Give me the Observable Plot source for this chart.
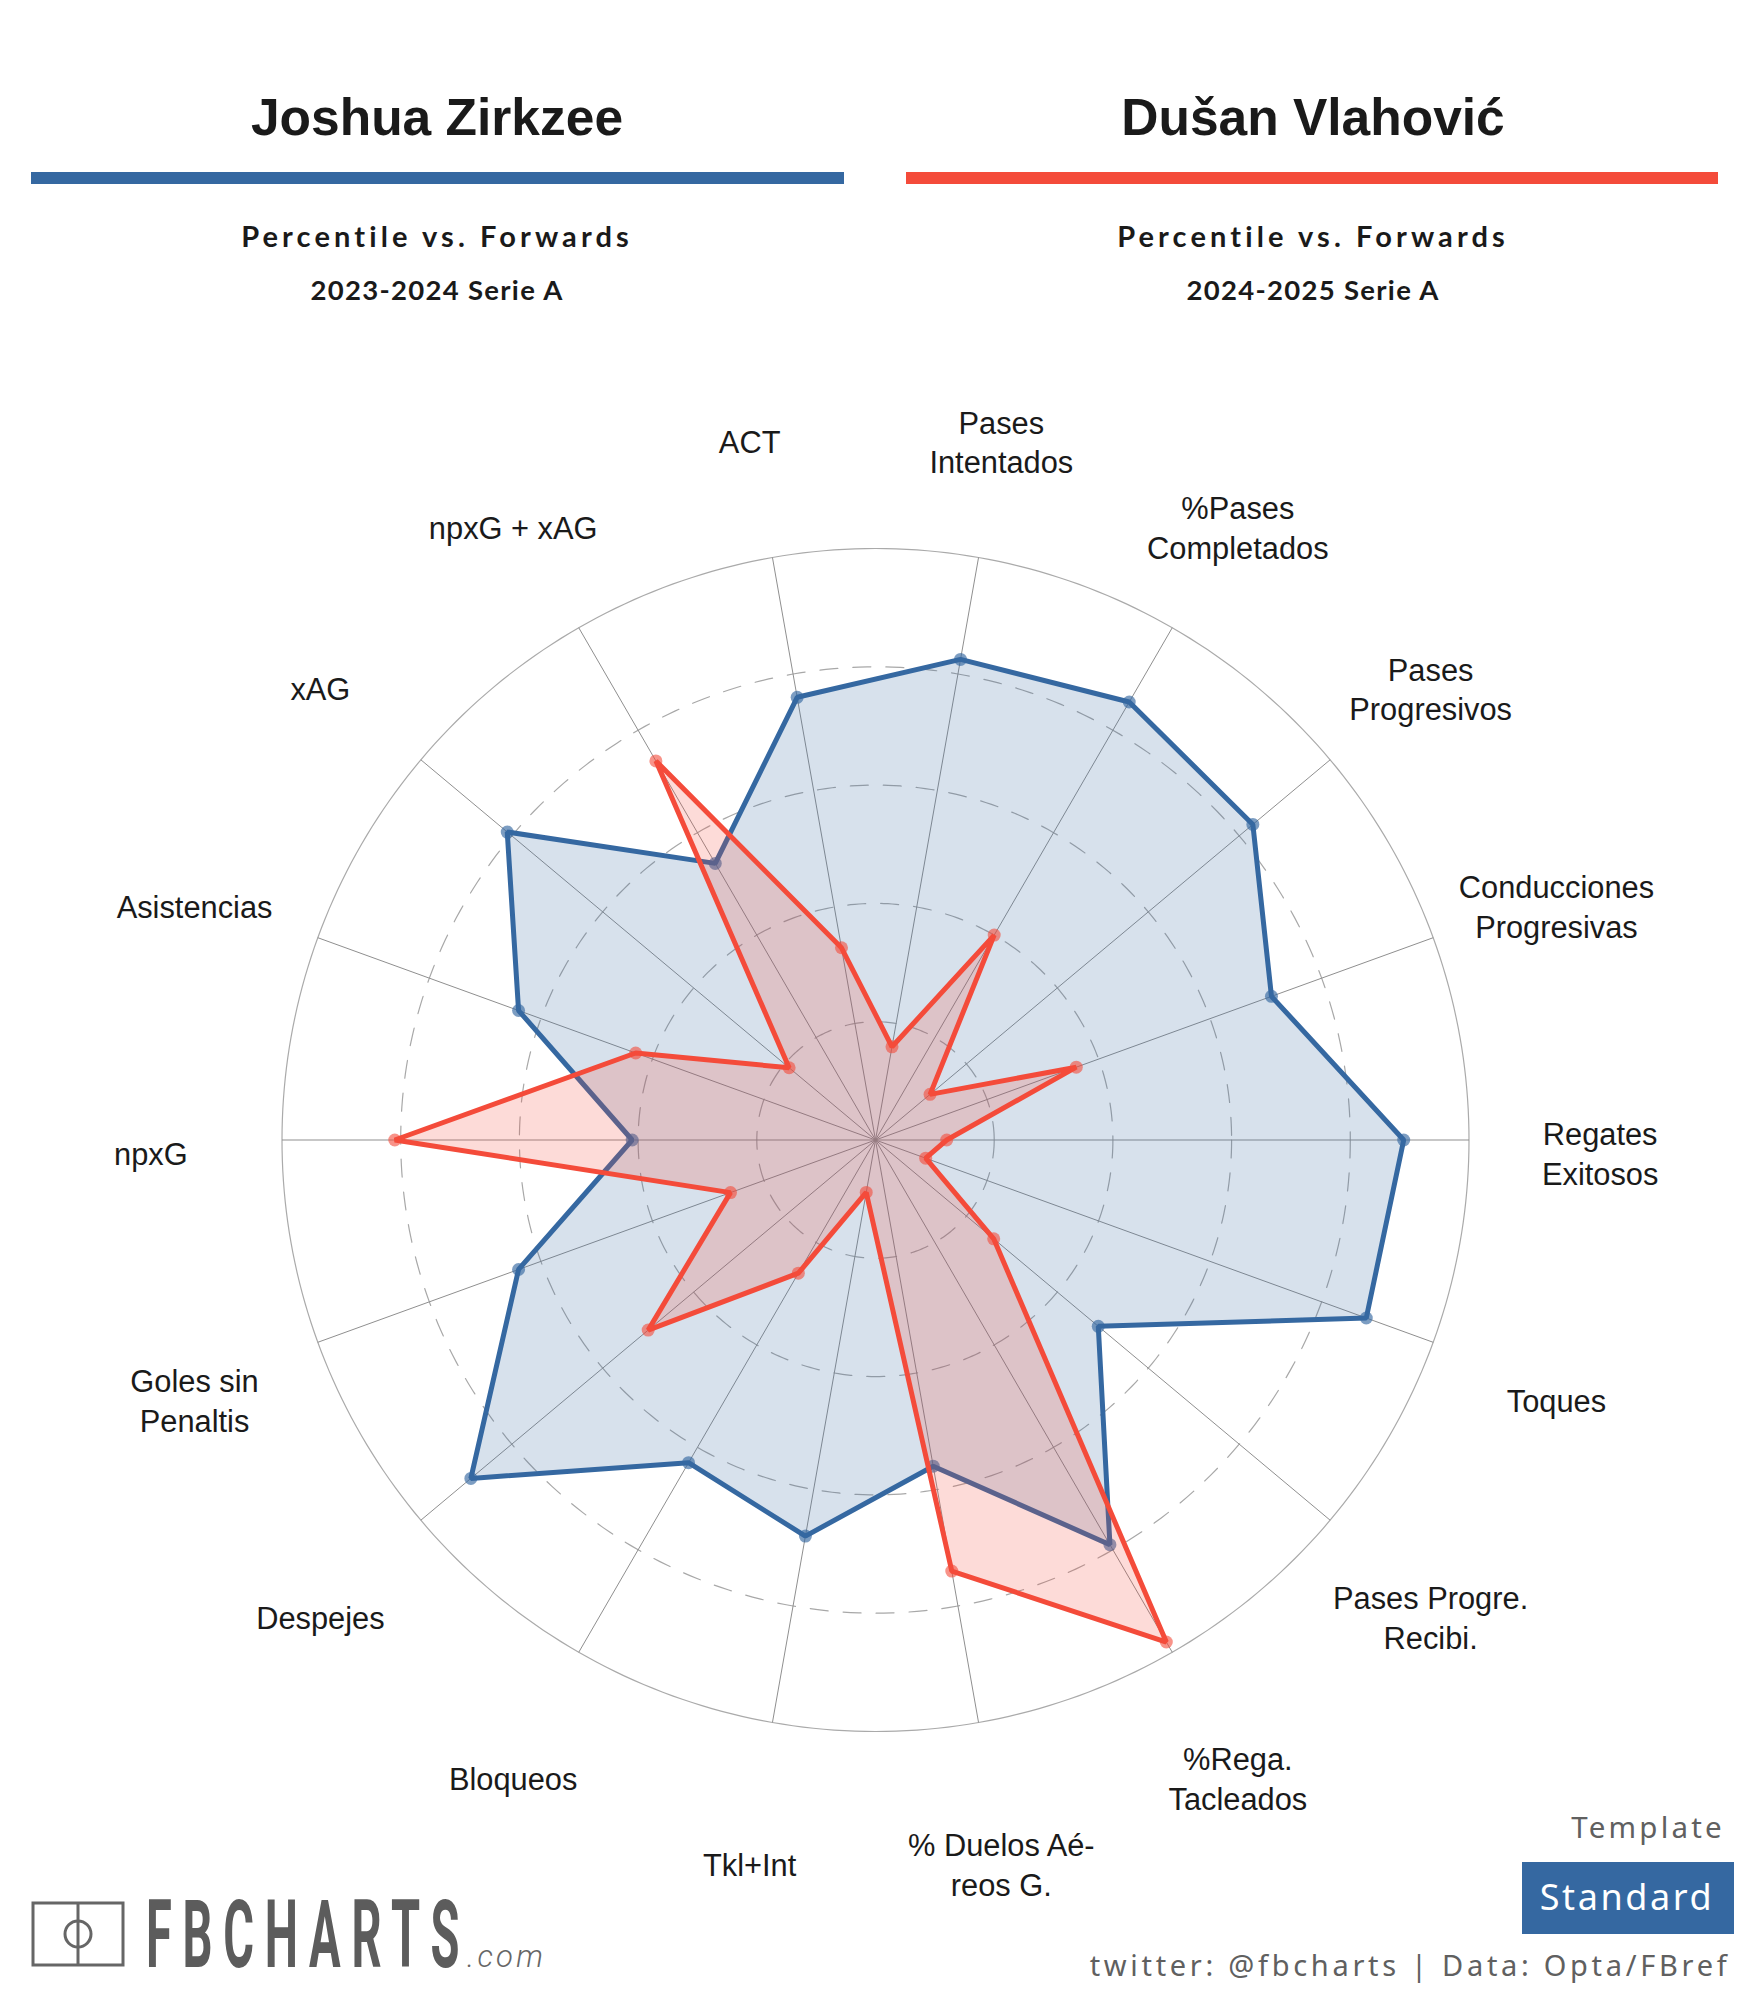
<!DOCTYPE html>
<html><head><meta charset="utf-8">
<script src="https://cdn.jsdelivr.net/npm/d3@7"></script>
<script src="https://cdn.jsdelivr.net/npm/@observablehq/plot@0.6"></script>
<style>
html,body{margin:0;padding:0;background:#fff;}
#page{position:relative;width:1750px;height:2000px;overflow:hidden;}
#page svg{position:absolute;left:0;top:0;}
.t{position:absolute;white-space:nowrap;transform:translate(-50%,-50%);line-height:1;}
.name{font:bold 51.5px "Liberation Sans",Arial,sans-serif;color:#1a1a1a;}
.sub{font:bold 29px Lato,sans-serif;color:#1a1a1a;letter-spacing:4.1px;}
.sub2{font:bold 27.5px Lato,sans-serif;color:#1a1a1a;letter-spacing:1.3px;}
.bar{position:absolute;top:172px;height:12px;}
</style></head><body>
<div id="page"></div>
<script>
const labels = ["Regates\nExitosos","Conducciones\nProgresivas","Pases\nProgresivos","%Pases\nCompletados","Pases\nIntentados","ACT","npxG + xAG","xAG","Asistencias","npxG","Goles sin\nPenaltis","Despejes","Bloqueos","Tkl+Int","% Duelos Aé-\nreos G.","%Rega.\nTacleados","Pases Progre.\nRecibi.","Toques"];
const zirkzee = [89,71,83,85.5,82.5,76,54,81,64,41,64,89,63,68,56,79,49,88];
const vlahovic = [12,36,12,40,16,33,74,19,43,81,26,50,26,9,74,98,26,9];
const ringLevels = [20,40,60,80];
const playerNames = ["Joshua Zirkzee","Dušan Vlahović"];
const seasons = ["2023-2024 Serie A","2024-2025 Serie A"];
const blue = "#3568a1", red = "#f44b3a";
const step = 360/labels.length;
const px = (r,a)=>r*Math.cos(a*Math.PI/180), py=(r,a)=>r*Math.sin(a*Math.PI/180);
const rows = vals => vals.map((v,i)=>({x:px(v,i*step),y:py(v,i*step)}));
const spokes = labels.map((l,i)=>({x:px(100,i*step),y:py(100,i*step)}));
const ring = r => d3.range(0,361,1).map(a=>({x:px(r,-a),y:py(r,-a)}));
const labelRows = labels.map((l,i)=>({l,x:px(122.1,i*step),y:py(122.1,i*step)}));
const RX=593.5, RY=591.5, CX=875, CY=1139.5;
const plot = Plot.plot({
  width:1750,height:2000,margin:0,
  x:{domain:[-100,100],range:[CX-RX,CX+RX],axis:null},
  y:{domain:[-100,100],range:[CY+RY,CY-RY],axis:null},
  style:{background:"transparent"},
  marks:[
    ...ringLevels.map(r=>Plot.line(ring(r),{x:"x",y:"y",stroke:"#a8a8a8",strokeWidth:1.2,strokeDasharray:"18,15"})),
    Plot.line(ring(100),{x:"x",y:"y",stroke:"#aaaaaa",strokeWidth:1.2}),
    Plot.link(spokes,{x1:()=>0,y1:()=>0,x2:"x",y2:"y",stroke:"#8f8f8f",strokeWidth:1}),
    Plot.line(rows(zirkzee),{x:"x",y:"y",curve:"linear-closed",fill:blue,fillOpacity:0.2,stroke:"none"}),
    Plot.line(rows(zirkzee),{x:"x",y:"y",curve:"linear-closed",stroke:blue,strokeWidth:5,strokeLinejoin:"miter"}),
    Plot.dot(rows(zirkzee),{x:"x",y:"y",r:6.5,fill:blue,fillOpacity:0.65}),
    Plot.line(rows(vlahovic),{x:"x",y:"y",curve:"linear-closed",fill:red,fillOpacity:0.2,stroke:"none"}),
    Plot.line(rows(vlahovic),{x:"x",y:"y",curve:"linear-closed",stroke:red,strokeWidth:5,strokeLinejoin:"miter"}),
    Plot.dot(rows(vlahovic),{x:"x",y:"y",r:6.5,fill:red,fillOpacity:0.6}),
    Plot.text(labelRows,{x:"x",y:"y",text:"l",dy:12,fontSize:30.8,fill:"#1a1a1a",fontFamily:"Liberation Sans, Arial, sans-serif",lineHeight:1.29,textAnchor:"middle"})
  ]
});
const page=document.getElementById("page");
page.appendChild(plot);
function add(cls,txt,x,y,css){const d=document.createElement("div");d.className="t "+cls;d.textContent=txt;d.style.left=x+"px";d.style.top=y+"px";if(css)d.style.cssText+=css;page.appendChild(d);return d;}
[[437,31,813,blue],[1313,906,812,red]].forEach((c,i)=>{
  add("name",playerNames[i],c[0],117);
  const b=document.createElement("div");b.className="bar";b.style.left=c[1]+"px";b.style.width=c[2]+"px";b.style.background=c[3];page.appendChild(b);
  add("sub","Percentile vs. Forwards",c[0],235);
  add("sub2",seasons[i],c[0],289);
});
add("","Template",1648,1826,'font:29.5px "Noto Sans",sans-serif;color:#606060;letter-spacing:3.2px;');
const box=document.createElement("div");box.style.cssText="position:absolute;left:1522px;top:1862px;width:212px;height:72px;background:"+blue;page.appendChild(box);
add("","Standard",1627,1896,'font:36px "Noto Sans",sans-serif;color:#fff;letter-spacing:2.6px;');
add("","twitter: @fbcharts | Data: Opta/FBref",1410,1964,'font:29px "Noto Sans",sans-serif;color:#606060;letter-spacing:3.7px;');
const logo=document.createElementNS("http://www.w3.org/2000/svg","svg");
logo.setAttribute("width",1750);logo.setAttribute("height",2000);
logo.style.pointerEvents="none";
logo.innerHTML=`<g fill="none" stroke="#666" stroke-width="3">
<rect x="33" y="1903" width="90" height="62"/>
<line x1="78" y1="1903" x2="78" y2="1965"/>
<ellipse cx="78" cy="1934" rx="13" ry="13"/></g>
<text transform="translate(146,1967) scale(0.5,1)" font-family="Roboto" font-weight="700" font-size="94" letter-spacing="21.5" fill="#5c5c5c">FBCHARTS</text>
<text x="467" y="1967" font-family="Roboto" font-style="italic" font-weight="300" font-size="31" letter-spacing="3.2" fill="#666">.com</text>`;
page.appendChild(logo);
</script>
</body></html>
